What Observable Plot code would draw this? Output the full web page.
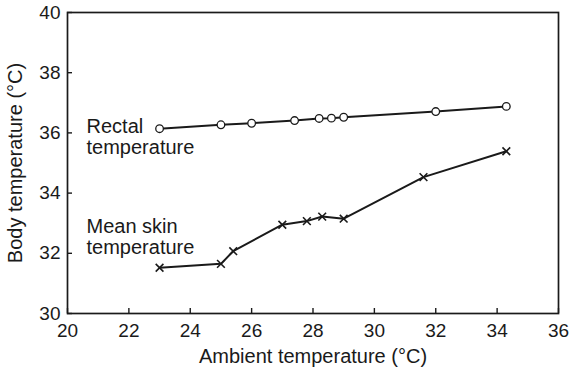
<!DOCTYPE html>
<html>
<head>
<meta charset="utf-8">
<script src="https://cdn.jsdelivr.net/npm/d3@7"></script>
<script src="https://cdn.jsdelivr.net/npm/@observablehq/plot@0.6"></script>
<style>
  html, body { margin: 0; padding: 0; background: #fff; }
  #chart svg { display: block; }
</style>
</head>
<body>
<div id="chart"></div>
<script>
// Ambient temperature (°C) at each measurement
const rectalAmbient = [23.0, 25.0, 26.0, 27.4, 28.2, 28.6, 29.0, 32.0, 34.3];
// Rectal temperature (°C)
const rectalTemp    = [36.14, 36.27, 36.32, 36.41, 36.48, 36.49, 36.52, 36.71, 36.88];

const skinAmbient = [23.0, 25.0, 25.4, 27.0, 27.8, 28.3, 29.0, 31.6, 34.3];
// Mean skin temperature (°C)
const skinTemp    = [31.52, 31.65, 32.07, 32.95, 33.07, 33.22, 33.15, 34.53, 35.39];

const xTicks = [20, 22, 24, 26, 28, 30, 32, 34, 36];
const yTicks = [30, 32, 34, 36, 38, 40];

// Series labels, placed in data coordinates
const seriesLabels = [
  {x: 20.62, y: 36.48, text: "Rectal\ntemperature"},
  {x: 20.62, y: 33.16, text: "Mean skin\ntemperature"}
];

const rectal = rectalAmbient.map((x, i) => ({x, y: rectalTemp[i]}));
const skin = skinAmbient.map((x, i) => ({x, y: skinTemp[i]}));

const ink = "#1a1a1a";

const chart = Plot.plot({
  width: 569,
  height: 371,
  marginLeft: 67,
  marginRight: 11,
  marginTop: 12,
  marginBottom: 58,
  style: {fontFamily: "'Liberation Sans', Arial, Helvetica, sans-serif", fontSize: "19px", color: ink, background: "#fff"},
  x: {domain: [20, 36]},
  y: {domain: [30, 40]},
  marks: [
    Plot.frame({stroke: ink, strokeWidth: 1.7}),
    Plot.axisX({ticks: xTicks, tickSize: -5, tickPadding: 15, stroke: ink, strokeWidth: 1.4,
      fontSize: 19, label: null}),
    Plot.axisX({ticks: [], label: "Ambient temperature (°C)", labelAnchor: "center",
      labelArrow: "none", labelOffset: 49, fontSize: 20}),
    Plot.axisY({ticks: yTicks, tickSize: -5, tickPadding: 12, stroke: ink, strokeWidth: 1.4,
      fontSize: 19, label: null}),
    Plot.axisY({ticks: [], label: "Body temperature (°C)", labelAnchor: "center",
      labelArrow: "none", labelOffset: 60, fontSize: 20}),
    Plot.line(rectal, {x: "x", y: "y", stroke: ink, strokeWidth: 2}),
    Plot.dot(rectal, {x: "x", y: "y", r: 3.8, stroke: ink, strokeWidth: 1.3, fill: "white"}),
    Plot.line(skin, {x: "x", y: "y", stroke: ink, strokeWidth: 2}),
    Plot.dot(skin, {x: "x", y: "y", symbol: "times", r: 3.6, stroke: ink, strokeWidth: 1.6}),
    Plot.text(seriesLabels, {x: "x", y: "y", text: "text", textAnchor: "start", lineAnchor: "top",
      lineHeight: 1.05, fill: ink, fontSize: 20})
  ]
});

document.getElementById("chart").append(chart);
</script>
</body>
</html>
